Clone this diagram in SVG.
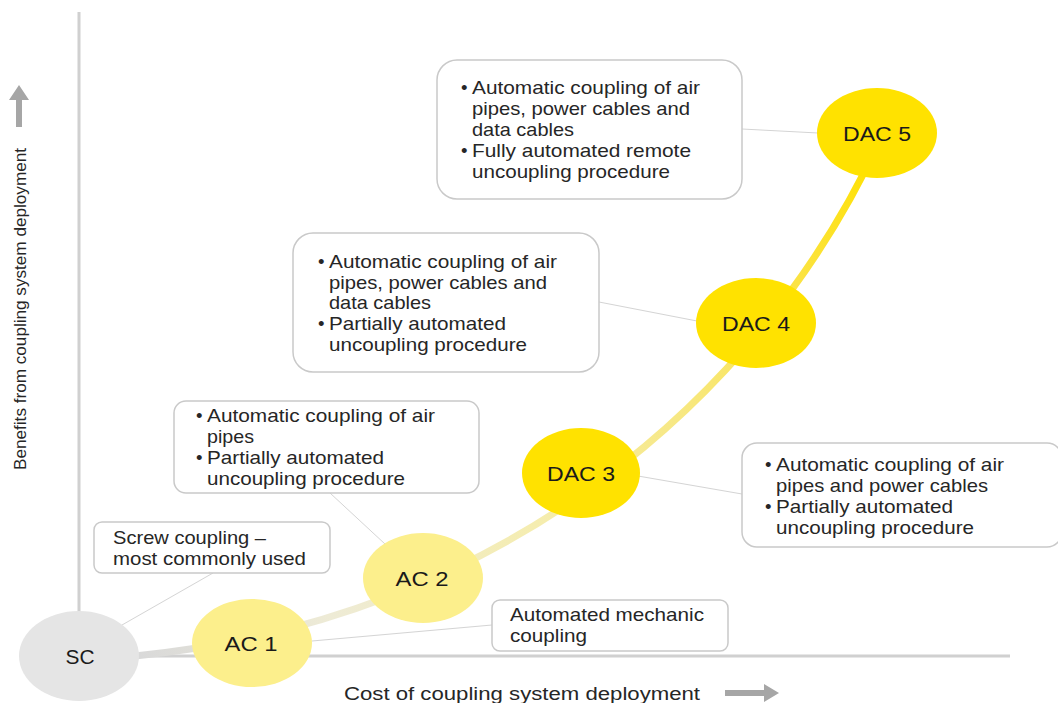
<svg xmlns="http://www.w3.org/2000/svg" width="1058" height="703" viewBox="0 0 1058 703">
<defs>
<linearGradient id="curveGrad" gradientUnits="userSpaceOnUse" x1="140" y1="656" x2="870" y2="150">
<stop offset="0" stop-color="#d9d9d9"/>
<stop offset="0.2" stop-color="#eeebd6"/>
<stop offset="0.45" stop-color="#f5edb0"/>
<stop offset="0.65" stop-color="#f7e884"/>
<stop offset="0.85" stop-color="#fbe343"/>
<stop offset="1" stop-color="#ffe100"/>
</linearGradient>
<style>
.axis{stroke:#d0d0d0;stroke-width:3;fill:none}
.leader{stroke:#d4d4d4;stroke-width:1;fill:none}
.box{fill:#ffffff;stroke:#c9c9c9;stroke-width:1.5}
.txt{font-family:"Liberation Sans",Arial,sans-serif;font-size:18.5px;fill:#262626}
.lbl{font-family:"Liberation Sans",Arial,sans-serif;font-size:20px;fill:#1a1a1a;text-anchor:middle;dominant-baseline:central}
.axlbl{font-family:"Liberation Sans",Arial,sans-serif;font-size:18px;fill:#262626}
.arrow{fill:#a6a6a6}
</style>
</defs>
<g id="axes">
<line class="axis" x1="79" y1="12" x2="79" y2="656"/>
<line class="axis" x1="79" y1="656" x2="1010" y2="656"/>
<polygon class="arrow" points="16,127 22,127 22,100 29,100 19,85 9,100 16,100"/>
<text class="axlbl" transform="translate(26,309) rotate(-90)" text-anchor="middle" textLength="322" lengthAdjust="spacingAndGlyphs" style="font-size:17px">Benefits from coupling system deployment</text>
<text class="axlbl" x="344" y="700" textLength="356" lengthAdjust="spacingAndGlyphs">Cost of coupling system deployment</text>
<polygon class="arrow" points="725,690 764,690 764,684 779,693 764,702 764,696 725,696"/>
</g>
<g id="connectors">
<path d="M 135 656 C 500 620, 760 400, 880 140" fill="none" stroke="url(#curveGrad)" stroke-width="7"/>
<line class="leader" x1="122" y1="625" x2="213" y2="573"/>
<line class="leader" x1="312" y1="641" x2="492" y2="625"/>
<line class="leader" x1="385" y1="544" x2="330" y2="493"/>
<line class="leader" x1="638" y1="476" x2="742" y2="494"/>
<line class="leader" x1="599" y1="302" x2="697" y2="321"/>
<line class="leader" x1="742" y1="129" x2="818" y2="133"/>
</g>
<g id="node-sc">
<ellipse cx="79" cy="656" rx="60" ry="45" fill="#e5e5e5"/>
<text class="lbl" x="80" y="657" textLength="29" lengthAdjust="spacingAndGlyphs">SC</text>
</g>
<g id="node-ac1">
<ellipse cx="252" cy="643" rx="60" ry="44" fill="#fcef8c"/>
<text class="lbl" x="251" y="644" textLength="53" lengthAdjust="spacingAndGlyphs">AC 1</text>
</g>
<g id="node-ac2">
<ellipse cx="423" cy="578" rx="60" ry="45" fill="#fcef8c"/>
<text class="lbl" x="422" y="579" textLength="53" lengthAdjust="spacingAndGlyphs">AC 2</text>
</g>
<g id="node-dac3">
<ellipse cx="581" cy="473" rx="59" ry="45" fill="#ffe200"/>
<text class="lbl" x="581" y="474" textLength="68" lengthAdjust="spacingAndGlyphs">DAC 3</text>
</g>
<g id="node-dac4">
<ellipse cx="756" cy="323" rx="60" ry="45" fill="#ffe200"/>
<text class="lbl" x="756" y="324" textLength="68" lengthAdjust="spacingAndGlyphs">DAC 4</text>
</g>
<g id="node-dac5">
<ellipse cx="877" cy="133" rx="60" ry="45" fill="#ffe200"/>
<text class="lbl" x="877" y="134" textLength="68" lengthAdjust="spacingAndGlyphs">DAC 5</text>
</g>
<g id="callout-sc">
<rect class="box" x="94" y="522" width="236" height="51" rx="8"/>
<text class="txt" x="113" y="544" textLength="153" lengthAdjust="spacingAndGlyphs">Screw coupling –</text>
<text class="txt" x="113" y="565" textLength="193" lengthAdjust="spacingAndGlyphs">most commonly used</text>
</g>
<g id="callout-ac1">
<rect class="box" x="492" y="600" width="236" height="51" rx="8"/>
<text class="txt" x="510" y="621" textLength="194" lengthAdjust="spacingAndGlyphs">Automated mechanic</text>
<text class="txt" x="510" y="642" textLength="77" lengthAdjust="spacingAndGlyphs">coupling</text>
</g>
<g id="callout-ac2">
<rect class="box" x="174" y="401" width="305" height="92" rx="12"/>
<text class="txt" x="196" y="422">•</text>
<text class="txt" x="207" y="422" textLength="228" lengthAdjust="spacingAndGlyphs">Automatic coupling of air</text>
<text class="txt" x="207" y="443" textLength="47" lengthAdjust="spacingAndGlyphs">pipes</text>
<text class="txt" x="196" y="464">•</text>
<text class="txt" x="207" y="464" textLength="177" lengthAdjust="spacingAndGlyphs">Partially automated</text>
<text class="txt" x="207" y="485" textLength="198" lengthAdjust="spacingAndGlyphs">uncoupling procedure</text>
</g>
<g id="callout-dac3">
<rect class="box" x="742" y="443" width="320" height="104" rx="15"/>
<text class="txt" x="765" y="471">•</text>
<text class="txt" x="776" y="471" textLength="228" lengthAdjust="spacingAndGlyphs">Automatic coupling of air</text>
<text class="txt" x="776" y="492" textLength="212" lengthAdjust="spacingAndGlyphs">pipes and power cables</text>
<text class="txt" x="765" y="513">•</text>
<text class="txt" x="776" y="513" textLength="177" lengthAdjust="spacingAndGlyphs">Partially automated</text>
<text class="txt" x="776" y="534" textLength="198" lengthAdjust="spacingAndGlyphs">uncoupling procedure</text>
</g>
<g id="callout-dac4">
<rect class="box" x="293" y="233" width="306" height="139" rx="20"/>
<text class="txt" x="318" y="268">•</text>
<text class="txt" x="329" y="268" textLength="228" lengthAdjust="spacingAndGlyphs">Automatic coupling of air</text>
<text class="txt" x="329" y="289" textLength="218" lengthAdjust="spacingAndGlyphs">pipes, power cables and</text>
<text class="txt" x="329" y="309" textLength="102" lengthAdjust="spacingAndGlyphs">data cables</text>
<text class="txt" x="318" y="330">•</text>
<text class="txt" x="329" y="330" textLength="177" lengthAdjust="spacingAndGlyphs">Partially automated</text>
<text class="txt" x="329" y="351" textLength="198" lengthAdjust="spacingAndGlyphs">uncoupling procedure</text>
</g>
<g id="callout-dac5">
<rect class="box" x="437" y="60" width="305" height="139" rx="20"/>
<text class="txt" x="461" y="94">•</text>
<text class="txt" x="472" y="94" textLength="228" lengthAdjust="spacingAndGlyphs">Automatic coupling of air</text>
<text class="txt" x="472" y="115" textLength="218" lengthAdjust="spacingAndGlyphs">pipes, power cables and</text>
<text class="txt" x="472" y="136" textLength="102" lengthAdjust="spacingAndGlyphs">data cables</text>
<text class="txt" x="461" y="157">•</text>
<text class="txt" x="472" y="157" textLength="219" lengthAdjust="spacingAndGlyphs">Fully automated remote</text>
<text class="txt" x="472" y="178" textLength="198" lengthAdjust="spacingAndGlyphs">uncoupling procedure</text>
</g>
</svg>
